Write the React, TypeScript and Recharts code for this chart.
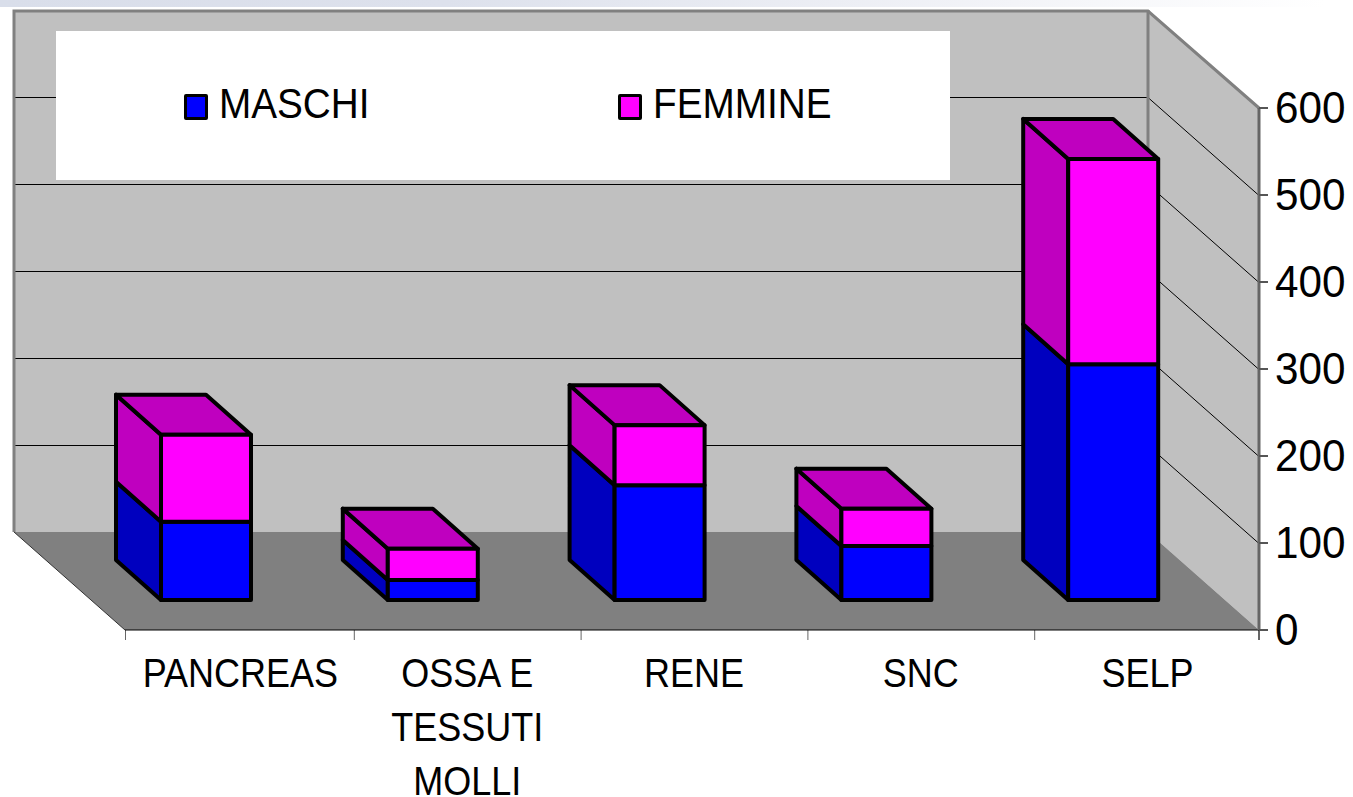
import { BarChart, Bar, XAxis, YAxis, Legend, usePlotArea } from 'recharts';

const categories = ['PANCREAS', 'OSSA E\nTESSUTI\nMOLLI', 'RENE', 'SNC', 'SELP'];
const maschi = [90, 23, 132, 62, 271];
const femmine = [100, 36, 69, 43, 236];
const yTicks = [0, 100, 200, 300, 400, 500, 600];
const legendLefts = [128, 562];

const data = categories.map((name, i) => ({ name, maschi: maschi[i], femmine: femmine[i] }));

const WALL_DX = 111;
const WALL_DY = 98;
const SHIFT_X = -32;
const SHIFT_Y = -30;
const BAR_DX = 45;
const BAR_DY = 40;
const Y_MAX = 600;

const FONT = '"Liberation Sans", Arial, sans-serif';

const pts = (list: number[][]) => list.map((p) => p.join(',')).join(' ');

// back wall, side wall and floor of the 3D box
const Walls = () => {
  const plot = usePlotArea();
  if (!plot) return null;
  const { x, y, width, height } = plot;
  const right = x + width;
  const bottom = y + height;
  const backL = x - WALL_DX;
  const backR = right - WALL_DX;
  const backTop = y - WALL_DY;
  const backBottom = bottom - WALL_DY;
  const yAt = (v: number) => bottom - (v / Y_MAX) * height;
  const bandW = width / categories.length;

  return (
    <g>
      <rect x={backL} y={backTop} width={width} height={height} fill="#C0C0C0" />
      <polygon points={pts([[backR, backTop], [right, y], [right, bottom], [backR, backBottom]])} fill="#C0C0C0" />
      <polygon points={pts([[backL, backBottom], [backR, backBottom], [right, bottom], [x, bottom]])} fill="#808080" />
      {yTicks.slice(1, -1).map((v) => (
        <g key={v} stroke="#000" strokeWidth={1}>
          <line x1={backL} x2={backR} y1={yAt(v) - WALL_DY + 0.5} y2={yAt(v) - WALL_DY + 0.5} />
          <line x1={backR} x2={right} y1={yAt(v) - WALL_DY + 0.5} y2={yAt(v) + 0.5} />
        </g>
      ))}
      <polyline
        points={pts([[backL, backBottom], [backL, backTop + 1], [backR, backTop + 1], [right, y]])}
        fill="none"
        stroke="#808080"
        strokeWidth={3}
      />
      <line x1={backR} x2={backR} y1={backTop} y2={backBottom} stroke="#808080" strokeWidth={3} />
      <line x1={backL} x2={x} y1={backBottom} y2={bottom} stroke="#333" strokeWidth={1} />
      {categories.map((_, i) => (
        <line
          key={i}
          x1={x + bandW * i + (i > 0 ? 2 : 0) + 0.5}
          x2={x + bandW * i + (i > 0 ? 2 : 0) + 0.5}
          y1={bottom}
          y2={bottom + 10}
          stroke="#666"
          strokeWidth={1}
        />
      ))}
      <line x1={right} x2={right} y1={bottom} y2={bottom + 10} stroke="#666" strokeWidth={2} />
    </g>
  );
};

const Box = (props: any) => {
  const { x, y, width, height, fill, sideFill, capped } = props;
  const l = x + SHIFT_X;
  const t = y + SHIFT_Y;
  const r = l + width;
  const b = t + height;
  return (
    <g stroke="#000" strokeWidth={4} strokeLinejoin="round">
      <polygon points={pts([[l, t], [l - BAR_DX, t - BAR_DY], [l - BAR_DX, b - BAR_DY], [l, b]])} fill={sideFill} />
      {capped && (
        <polygon points={pts([[l, t], [l - BAR_DX, t - BAR_DY], [r - BAR_DX, t - BAR_DY], [r, t]])} fill={sideFill} />
      )}
      <rect x={l} y={t} width={width} height={height} fill={fill} />
    </g>
  );
};

const CategoryTick = ({ x, payload }: any) => (
  <g>
    {String(payload.value)
      .split('\n')
      .map((line, i) => (
        <text
          key={line}
          transform={`translate(${x + 2},${687 + i * 54}) scale(0.9,1)`}
          textAnchor="middle"
          fontFamily={FONT}
          fontSize={40}
          fill="#000"
        >
          {line}
        </text>
      ))}
  </g>
);

const ValueTick = ({ y, payload }: any) => (
  <text
    transform={`translate(1275,${y + 15}) scale(0.96,1)`}
    fontFamily={FONT}
    fontSize={44}
    fill="#000"
  >
    {payload.value}
  </text>
);

const LegendBox = ({ payload }: any) => (
  <div style={{ position: 'relative', width: 894, height: 149, background: '#fff' }}>
    {(payload || []).map((item: any, i: number) => (
      <div key={item.value} style={{ position: 'absolute', left: legendLefts[i], top: 50 }}>
        <div
          style={{
            position: 'absolute',
            left: 0,
            top: 13,
            width: 18,
            height: 20,
            background: item.color,
            border: '3px solid #000',
            borderRadius: 2,
          }}
        />
        <div
          style={{
            position: 'absolute',
            left: 35,
            top: -3,
            fontFamily: FONT,
            fontSize: 43,
            lineHeight: '50px',
            color: '#000',
            whiteSpace: 'nowrap',
            transform: 'scaleX(0.9)',
            transformOrigin: 'left center',
          }}
        >
          {item.value}
        </div>
      </div>
    ))}
  </div>
);

export default function App() {
  return (
    <div style={{ position: 'absolute', left: 0, top: 0, width: 1353, height: 797, overflow: 'hidden', background: '#fff' }}>
      <div
        style={{
          position: 'absolute',
          left: 0,
          top: 0,
          width: 1353,
          height: 7,
          background: 'linear-gradient(to right, #D9DEEA 0%, #DDE1EC 33%, #F3F4F8 75%, #FFFFFF 98%)',
        }}
      />
      <BarChart
        width={1353}
        height={797}
        data={data}
        margin={{ top: 108, left: 125, right: 0, bottom: 0 }}
        style={{ position: 'absolute', left: 0, top: 0 }}
      >
        <Walls />
        <XAxis
          dataKey="name"
          interval={0}
          height={167}
          tick={<CategoryTick />}
          tickLine={false}
          axisLine={{ stroke: '#000', strokeWidth: 1 }}
        />
        <YAxis
          orientation="right"
          width={94}
          domain={[0, Y_MAX]}
          ticks={yTicks}
          tick={<ValueTick />}
          tickSize={9}
          tickLine={{ stroke: '#555', strokeWidth: 2 }}
          axisLine={{ stroke: '#666', strokeWidth: 3 }}
        />
        <Legend
          layout="horizontal"
          verticalAlign="middle"
          itemSorter={null}
          content={<LegendBox />}
          wrapperStyle={{ position: 'absolute', left: 56, top: 31, width: 894, height: 149 }}
        />
        <Bar
          dataKey="maschi"
          name="MASCHI"
          stackId="a"
          barSize={90}
          fill="#0000FF"
          isAnimationActive={false}
          shape={(p: any) => <Box {...p} sideFill="#0000BF" />}
        />
        <Bar
          dataKey="femmine"
          name="FEMMINE"
          stackId="a"
          barSize={90}
          fill="#FF00FF"
          isAnimationActive={false}
          shape={(p: any) => <Box {...p} sideFill="#BF00BF" capped />}
        />
      </BarChart>
    </div>
  );
}
